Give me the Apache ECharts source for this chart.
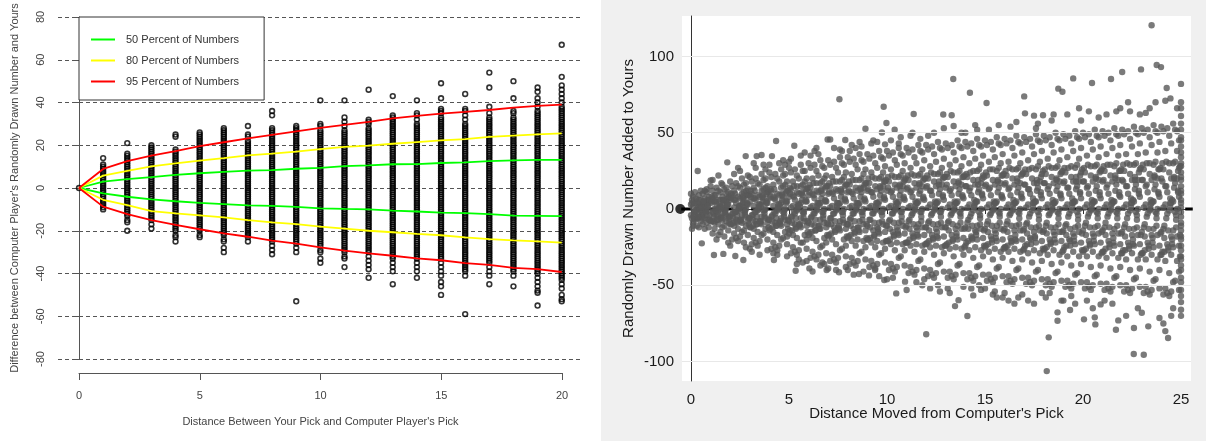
<!DOCTYPE html>
<html><head><meta charset="utf-8">
<script src="https://cdn.jsdelivr.net/npm/echarts@6/dist/echarts.min.js"></script>
<style>html,body{margin:0;padding:0;background:#fff}#c{width:1206px;height:441px}</style>
</head><body><div id="c"></div>
<script>
// ---------- LEFT PANEL DATA ----------
const leftXTicks = [0, 5, 10, 15, 20];
const leftYTicks = [-80, -60, -40, -20, 0, 20, 40, 60, 80];
const legendNames = ['50 Percent of Numbers', '80 Percent of Numbers', '95 Percent of Numbers'];
// y values observed in each column; column index = distance (0..20)
const col0 = [0];
const col1 = [-10,-9,-8,-7,-6,-5,-4,-3,-2,-1,0,1,2,3,4,5,6,7,8,9,10,11,14];
const col2 = [-20,-16,-15,-13,-12,-11,-10,-9,-8,-7,-6,-5,-4,-3,-2,-1,0,1,2,3,4,5,6,7,8,9,10,11,12,13,14,15,16,21];
const col3 = [-19,-17,-15,-14,-13,-12,-11,-10,-9,-8,-7,-6,-5,-4,-3,-2,-1,0,1,2,3,4,5,6,7,8,9,10,11,12,13,14,15,16,17,18,19,20];
const col4 = [-25,-23,-22,-20,-19,-18,-17,-16,-15,-14,-13,-12,-11,-10,-9,-8,-7,-6,-5,-4,-3,-2,-1,0,1,2,3,4,5,6,7,8,9,10,11,12,13,14,15,16,17,18,24,25];
const col5 = [-23,-22,-20,-19,-18,-17,-16,-15,-14,-13,-12,-11,-10,-9,-8,-7,-6,-5,-4,-3,-2,-1,0,1,2,3,4,5,6,7,8,9,10,11,12,13,14,15,16,17,18,19,20,21,22,23,24,25,26];
const col6 = [-30,-28,-25,-24,-22,-21,-20,-19,-18,-17,-16,-15,-14,-13,-12,-11,-10,-9,-8,-7,-6,-5,-4,-3,-2,-1,0,1,2,3,4,5,6,7,8,9,10,11,12,13,14,15,16,17,18,19,20,21,22,23,24,25,26,27,28];
const col7 = [-25,-23,-22,-21,-20,-19,-18,-17,-16,-15,-14,-13,-12,-11,-10,-9,-8,-7,-6,-5,-4,-3,-2,-1,0,1,2,3,4,5,6,7,8,9,10,11,12,13,14,15,16,17,18,19,20,21,22,24,25,29];
const col8 = [-31,-29,-27,-25,-24,-23,-22,-21,-20,-19,-18,-17,-16,-15,-14,-13,-12,-11,-10,-9,-8,-7,-6,-5,-4,-3,-2,-1,0,1,2,3,4,5,6,7,8,9,10,11,12,13,14,15,16,17,18,19,20,21,22,23,24,25,26,27,28,34,36];
const col9 = [-53,-30,-28,-26,-25,-24,-23,-22,-21,-20,-19,-18,-17,-16,-15,-14,-13,-12,-11,-10,-9,-8,-7,-6,-5,-4,-3,-2,-1,0,1,2,3,4,5,6,7,8,9,10,11,12,13,14,15,16,17,18,19,20,21,22,23,24,25,26,27,28,29];
const col10 = [-35,-33,-30,-29,-27,-26,-25,-24,-23,-22,-21,-20,-19,-18,-17,-16,-15,-14,-13,-12,-11,-10,-9,-8,-7,-6,-5,-4,-3,-2,-1,0,1,2,3,4,5,6,7,8,9,10,11,12,13,14,15,16,17,18,19,20,21,22,23,24,25,26,27,29,30,41];
const col11 = [-37,-33,-32,-30,-29,-28,-27,-26,-25,-24,-23,-22,-21,-20,-19,-18,-17,-16,-15,-14,-13,-12,-11,-10,-9,-8,-7,-6,-5,-4,-3,-2,-1,0,1,2,3,4,5,6,7,8,9,10,11,12,13,14,15,16,17,18,19,20,21,22,23,24,25,26,27,29,31,33,41];
const col12 = [-42,-38,-36,-34,-32,-30,-29,-28,-27,-26,-25,-24,-23,-22,-21,-20,-19,-18,-17,-16,-15,-14,-13,-12,-11,-10,-9,-8,-7,-6,-5,-4,-3,-2,-1,0,1,2,3,4,5,6,7,8,9,10,11,12,13,14,15,16,17,18,19,20,21,22,23,24,25,26,27,28,30,31,32,46];
const col13 = [-45,-39,-37,-35,-33,-32,-31,-30,-29,-28,-27,-26,-25,-24,-23,-22,-21,-20,-19,-18,-17,-16,-15,-14,-13,-12,-11,-10,-9,-8,-7,-6,-5,-4,-3,-2,-1,0,1,2,3,4,5,6,7,8,9,10,11,12,13,14,15,16,17,18,19,20,21,22,23,24,25,26,27,28,29,30,31,32,33,34,43];
const col14 = [-42,-39,-37,-35,-33,-32,-31,-30,-29,-28,-27,-26,-25,-24,-23,-22,-21,-20,-19,-18,-17,-16,-15,-14,-13,-12,-11,-10,-9,-8,-7,-6,-5,-4,-3,-2,-1,0,1,2,3,4,5,6,7,8,9,10,11,12,13,14,15,16,17,18,19,20,21,22,23,24,25,26,27,28,29,30,32,34,35,41];
const col15 = [-50,-46,-44,-41,-39,-37,-35,-33,-32,-31,-30,-29,-28,-27,-26,-25,-24,-23,-22,-21,-20,-19,-18,-17,-16,-15,-14,-13,-12,-11,-10,-9,-8,-7,-6,-5,-4,-3,-2,-1,0,1,2,3,4,5,6,7,8,9,10,11,12,13,14,15,16,17,18,19,20,21,22,23,24,25,26,27,28,29,30,31,32,33,35,36,37,42,49];
const col16 = [-59,-41,-39,-38,-37,-36,-35,-34,-33,-32,-31,-30,-29,-28,-27,-26,-25,-24,-23,-22,-21,-20,-19,-18,-17,-16,-15,-14,-13,-12,-11,-10,-9,-8,-7,-6,-5,-4,-3,-2,-1,0,1,2,3,4,5,6,7,8,9,10,11,12,13,14,15,16,17,18,19,20,21,22,23,24,25,26,27,28,29,30,32,34,36,37,44];
const col17 = [-45,-41,-39,-37,-35,-34,-33,-32,-31,-30,-29,-28,-27,-26,-25,-24,-23,-22,-21,-20,-19,-18,-17,-16,-15,-14,-13,-12,-11,-10,-9,-8,-7,-6,-5,-4,-3,-2,-1,0,1,2,3,4,5,6,7,8,9,10,11,12,13,14,15,16,17,18,19,20,21,22,23,24,25,26,27,28,29,30,31,32,33,35,38,47,54];
const col18 = [-46,-41,-39,-38,-37,-36,-35,-34,-33,-32,-31,-30,-29,-28,-27,-26,-25,-24,-23,-22,-21,-20,-19,-18,-17,-16,-15,-14,-13,-12,-11,-10,-9,-8,-7,-6,-5,-4,-3,-2,-1,0,1,2,3,4,5,6,7,8,9,10,11,12,13,14,15,16,17,18,19,20,21,22,23,24,25,26,27,28,29,30,31,32,33,35,36,42,50];
const col19 = [-55,-49,-48,-46,-44,-42,-40,-39,-38,-37,-36,-35,-34,-33,-32,-31,-30,-29,-28,-27,-26,-25,-24,-23,-22,-21,-20,-19,-18,-17,-16,-15,-14,-13,-12,-11,-10,-9,-8,-7,-6,-5,-4,-3,-2,-1,0,1,2,3,4,5,6,7,8,9,10,11,12,13,14,15,16,17,18,19,20,21,22,23,24,25,26,27,28,29,30,31,32,33,34,35,36,38,40,42,45,47];
const col20 = [-53,-52,-50,-47,-45,-43,-42,-41,-40,-39,-38,-37,-36,-35,-34,-33,-32,-31,-30,-29,-28,-27,-26,-25,-24,-23,-22,-21,-20,-19,-18,-17,-16,-15,-14,-13,-12,-11,-10,-9,-8,-7,-6,-5,-4,-3,-2,-1,0,1,2,3,4,5,6,7,8,9,10,11,12,13,14,15,16,17,18,19,20,21,22,23,24,25,26,27,28,29,30,31,32,33,34,35,36,37,38,40,42,44,46,48,52,67];
const leftCols = [col0,col1,col2,col3,col4,col5,col6,col7,col8,col9,col10,col11,col12,col13,col14,col15,col16,col17,col18,col19,col20];

// percentile band lines, index = distance 0..20
const pct50Upper = [0,3.0,4.2,5.1,6.1,6.9,7.5,8.1,8.4,9.0,9.4,10.2,10.6,11.1,11.2,11.7,12.0,12.6,12.9,13.2,13.2];
const pct50Lower = [0,-2.5,-4.1,-5.3,-6.2,-7.0,-7.5,-8.1,-8.4,-8.8,-9.5,-9.8,-10.0,-10.6,-11.0,-11.5,-11.8,-12.2,-12.9,-13.0,-13.2];
const pct80Upper = [0,5.8,8.0,10.1,11.5,12.8,14.0,15.3,16.1,17.0,18.2,19.2,19.8,20.7,21.5,22.3,22.9,23.9,24.5,25.1,25.6];
const pct80Lower = [0,-5.5,-8.0,-10.8,-11.9,-12.8,-13.7,-15.0,-16.1,-16.9,-18.1,-19.0,-20.0,-20.7,-21.5,-22.1,-23.1,-23.9,-24.5,-25.0,-25.6];
const pct95Upper = [0,8.9,12.6,15.1,17.3,19.6,21.4,23.2,24.9,26.5,28.1,29.5,30.9,32.6,33.7,34.8,35.6,36.5,37.6,38.4,39.0];
const pct95Lower = [0,-8.7,-12.2,-15.0,-17.3,-19.3,-21.2,-22.8,-24.6,-26.0,-27.8,-29.3,-30.6,-31.7,-32.9,-33.8,-35.1,-36.0,-37.4,-38.0,-39.3];

// ---------- RIGHT PANEL DATA ----------
const rightXTicks = [0, 5, 10, 15, 20, 25];
const rightYTicks = [-100, -50, 0, 50, 100];
const rightGridValues = [-100, -50, 50, 100];
const zeroLineX = [-0.5, 25.6];
const originDot = [-0.55, 0];
// (distance, number) pairs, flat: x, y, x, y ... (outer spread and outliers)
const rightXY = [
0.0,3, 0.0,-4, 0.1,8, 0.1,-9, 0.1,1, 0.2,11, 0.2,-2, 0.2,-7, 0.3,5, 0.3,-11, 0.3,0, 0.4,9, 0.4,-5, 0.4,2, 0.5,-1, 0.5,12, 0.5,-8, 0.5,6, 0.6,-3, 0.6,10, 0.6,-10, 0.6,4, 0.7,-6, 0.7,7, 0.7,1, 0.7,-13, 0.8,13, 0.8,-4, 0.8,3, 0.8,-9, 0.9,8, 0.9,-1, 0.9,-12, 0.9,5, 0.0,10, 0.2,4, 0.4,-12, 0.6,-6, 0.8,11, 0.3,-6, 0.5,2, 0.7,12, 0.1,-11, 0.9,-7, 0.4,6, 0.05,-13, 0.55,-22.5, 0.34,24.9,
1.0,4, 1.0,-8, 1.1,12, 1.1,-2, 1.1,7, 1.2,-13, 1.2,0, 1.2,9, 1.3,-5, 1.3,14, 1.3,3, 1.4,-10, 1.4,6, 1.4,-1, 1.5,11, 1.5,-15, 1.5,2, 1.6,-7, 1.6,8, 1.6,-3, 1.7,13, 1.7,-11, 1.7,5, 1.8,-4, 1.8,10, 1.8,1, 1.9,-14, 1.9,7, 1.9,-6, 1.0,15, 1.2,-9, 1.4,12, 1.6,-12, 1.8,-8, 1.3,-2, 1.5,6, 1.7,0, 1.9,3, 1.1,-16, 1.6,16, 1.8,14, 1.4,-17, 1.9,11, 1.2,5, 1.5,-6, 1.0,18.8, 1.55,17, 1.85,30.6, 1.17,-30.1, 1.65,-29.4, 1.3,-20, 1.7,-18, 1.4,22, 1.1,19, 1.9,-22,
2.0,6, 2.0,-10, 2.1,15, 2.1,-3, 2.1,9, 2.2,-16, 2.2,1, 2.2,12, 2.3,-7, 2.3,17, 2.3,4, 2.4,-13, 2.4,8, 2.4,-1, 2.5,14, 2.5,-18, 2.5,2, 2.6,-9, 2.6,10, 2.6,-4, 2.7,16, 2.7,-14, 2.7,6, 2.8,-5, 2.8,12, 2.8,0, 2.9,-17, 2.9,9, 2.9,-8, 2.0,18, 2.2,-11, 2.4,15, 2.6,-15, 2.8,-11, 2.3,-2, 2.5,7, 2.7,-1, 2.9,3, 2.1,-20, 2.6,20, 2.8,17, 2.4,-21, 2.9,13, 2.2,6, 2.5,-7, 2.7,11, 2.0,-5, 2.3,-19, 2.6,3, 2.26,-30.8, 2.67,-33.4, 2.79,34.7, 2.2,23, 2.5,25, 2.9,22, 2.0,-24, 2.8,-25, 2.4,27, 2.7,-22,
3.0,5, 3.0,-12, 3.1,18, 3.1,-4, 3.1,10, 3.2,-19, 3.2,2, 3.2,14, 3.3,-8, 3.3,20, 3.3,6, 3.4,-15, 3.4,9, 3.4,-1, 3.5,16, 3.5,-21, 3.5,3, 3.6,-10, 3.6,12, 3.6,-5, 3.7,19, 3.7,-16, 3.7,7, 3.8,-6, 3.8,14, 3.8,0, 3.9,-20, 3.9,11, 3.9,-9, 3.0,21, 3.2,-13, 3.4,17, 3.6,-17, 3.8,-13, 3.3,-2, 3.5,8, 3.7,-1, 3.9,4, 3.1,-23, 3.6,23, 3.8,20, 3.4,-24, 3.9,15, 3.2,7, 3.5,-8, 3.7,13, 3.0,-6, 3.3,-22, 3.6,3, 3.35,34.7, 3.6,35.4, 3.3,27, 3.7,29, 3.1,-28, 3.9,-27, 3.5,-30, 3.8,26, 3.2,30, 3.0,-26,
4.0,7, 4.0,-14, 4.1,21, 4.1,-5, 4.1,12, 4.2,-22, 4.2,2, 4.2,16, 4.3,-9, 4.3,23, 4.3,6, 4.4,-17, 4.4,10, 4.4,-1, 4.5,18, 4.5,-24, 4.5,3, 4.6,-11, 4.6,14, 4.6,-6, 4.7,22, 4.7,-19, 4.7,8, 4.8,-7, 4.8,16, 4.8,0, 4.9,-23, 4.9,12, 4.9,-10, 4.0,24, 4.2,-15, 4.4,20, 4.6,-20, 4.8,-15, 4.3,-3, 4.5,9, 4.7,-2, 4.9,5, 4.1,-26, 4.6,26, 4.8,23, 4.4,-27, 4.9,18, 4.2,8, 4.5,-9, 4.7,15, 4.0,-7, 4.3,-25, 4.6,4, 4.9,-18, 4.13,34.7, 4.34,44.6, 4.23,-33.4, 4.5,30, 4.7,32, 4.0,29, 4.9,-31, 4.4,-30, 4.8,29, 4.2,-29,
5.0,8, 5.0,-16, 5.1,24, 5.1,-5, 5.1,13, 5.2,-25, 5.2,2, 5.2,18, 5.3,-10, 5.3,26, 5.3,6, 5.4,-19, 5.4,11, 5.4,-1, 5.5,20, 5.5,-27, 5.5,3, 5.6,-12, 5.6,15, 5.6,-6, 5.7,25, 5.7,-22, 5.7,9, 5.8,-8, 5.8,18, 5.8,0, 5.9,-26, 5.9,13, 5.9,-11, 5.0,27, 5.2,-17, 5.4,22, 5.6,-22, 5.8,-17, 5.3,-3, 5.5,10, 5.7,-2, 5.9,5, 5.1,-29, 5.6,29, 5.8,25, 5.4,-30, 5.9,20, 5.2,9, 5.5,-10, 5.7,16, 5.0,-8, 5.3,-28, 5.6,4, 5.9,-20, 5.1,1, 5.4,15, 5.27,41.5, 5.34,-40.4, 5.4,-36, 5.6,35, 5.8,37, 5.1,33, 5.9,-34, 5.5,-33, 5.0,31, 5.7,-35,
6.0,9, 6.0,-17, 6.1,27, 6.1,-6, 6.1,14, 6.2,-28, 6.2,2, 6.2,20, 6.3,-11, 6.3,29, 6.3,7, 6.4,-21, 6.4,12, 6.4,-1, 6.5,22, 6.5,-30, 6.5,4, 6.6,-13, 6.6,17, 6.6,-7, 6.7,28, 6.7,-24, 6.7,10, 6.8,-9, 6.8,20, 6.8,0, 6.9,-29, 6.9,15, 6.9,-12, 6.0,30, 6.2,-19, 6.4,25, 6.6,-25, 6.8,-19, 6.3,-3, 6.5,11, 6.7,-2, 6.9,5, 6.1,-32, 6.6,32, 6.8,27, 6.4,-33, 6.9,22, 6.2,10, 6.5,-11, 6.7,18, 6.0,-9, 6.3,-31, 6.6,4, 6.9,-22, 6.1,1, 6.4,17, 6.04,-38.9, 6.2,-40.9, 6.97,45.6, 6.3,38, 6.5,36, 6.1,35, 6.8,-36, 6.6,-37, 6.4,40, 6.7,-35, 6.92,-40,
7.0,10, 7.0,-18, 7.1,29, 7.1,-6, 7.1,15, 7.2,-30, 7.2,2, 7.2,21, 7.3,-12, 7.3,31, 7.3,7, 7.4,-23, 7.4,13, 7.4,-1, 7.5,24, 7.5,-32, 7.5,4, 7.6,-14, 7.6,18, 7.6,-8, 7.7,30, 7.7,-26, 7.7,11, 7.8,-9, 7.8,21, 7.8,0, 7.9,-31, 7.9,16, 7.9,-13, 7.0,32, 7.2,-20, 7.4,27, 7.6,-27, 7.8,-20, 7.3,-3, 7.5,12, 7.7,-2, 7.9,5, 7.1,-34, 7.6,34, 7.8,29, 7.4,-35, 7.9,24, 7.2,11, 7.5,-12, 7.7,19, 7.0,-10, 7.3,-33, 7.6,4, 7.9,-24, 7.1,1, 7.4,18, 7.1,45.6, 7.57,71.9, 7.87,45.2, 7.55,-41.4, 7.3,40, 7.7,38, 7.0,-39, 7.9,-38, 7.4,-40, 7.6,39,
8.0,11, 8.0,-19, 8.1,31, 8.1,-7, 8.1,16, 8.2,-32, 8.2,2, 8.2,23, 8.3,-13, 8.3,33, 8.3,7, 8.4,-24, 8.4,14, 8.4,-1, 8.5,26, 8.5,-34, 8.5,4, 8.6,-15, 8.6,19, 8.6,-8, 8.7,32, 8.7,-28, 8.7,11, 8.8,-10, 8.8,23, 8.8,0, 8.9,-33, 8.9,17, 8.9,-14, 8.0,34, 8.2,-21, 8.4,29, 8.6,-29, 8.8,-21, 8.3,-3, 8.5,12, 8.7,-2, 8.9,5, 8.1,-36, 8.6,36, 8.8,31, 8.4,-37, 8.9,26, 8.2,11, 8.5,-12, 8.7,20, 8.0,-10, 8.3,-35, 8.6,4, 8.9,-25, 8.1,1, 8.4,19, 8.5,-20, 8.8,14, 8.9,52.6, 8.57,-42.6, 8.2,42, 8.6,44, 8.4,40, 8.0,-40, 8.8,-41, 8.3,-43, 8.7,41, 8.1,38,
9.0,12, 9.0,-20, 9.1,33, 9.1,-7, 9.1,17, 9.2,-34, 9.2,2, 9.2,24, 9.3,-14, 9.3,35, 9.3,8, 9.4,-25, 9.4,15, 9.4,-1, 9.5,27, 9.5,-36, 9.5,4, 9.6,-16, 9.6,20, 9.6,-9, 9.7,34, 9.7,-29, 9.7,12, 9.8,-10, 9.8,24, 9.8,0, 9.9,-35, 9.9,18, 9.9,-15, 9.0,36, 9.2,-22, 9.4,30, 9.6,-30, 9.8,-22, 9.3,-3, 9.5,13, 9.7,-2, 9.9,6, 9.1,-38, 9.6,38, 9.8,33, 9.4,-39, 9.9,28, 9.2,11, 9.5,-12, 9.7,21, 9.0,-11, 9.3,-37, 9.6,5, 9.9,-26, 9.1,1, 9.4,20, 9.5,-21, 9.8,15, 9.08,-43.5, 9.39,-40, 9.86,-46.5, 9.83,67, 9.97,56.4, 9.74,50.2, 9.9,42.4, 9.5,44, 9.2,43, 9.6,-44, 9.3,45,
10.0,12, 10.0,-21, 10.1,35, 10.1,-8, 10.1,18, 10.2,-36, 10.2,2, 10.2,26, 10.3,-15, 10.3,37, 10.3,8, 10.4,-27, 10.4,16, 10.4,-1, 10.5,29, 10.5,-38, 10.5,4, 10.6,-17, 10.6,21, 10.6,-9, 10.7,36, 10.7,-31, 10.7,12, 10.8,-11, 10.8,25, 10.8,0, 10.9,-37, 10.9,19, 10.9,-16, 10.0,38, 10.2,-23, 10.4,32, 10.6,-32, 10.8,-23, 10.3,-3, 10.5,14, 10.7,-2, 10.9,6, 10.1,-40, 10.6,40, 10.8,35, 10.4,-41, 10.9,30, 10.2,11, 10.5,-12, 10.7,22, 10.0,-11, 10.3,-39, 10.6,5, 10.9,-27, 10.1,1, 10.4,21, 10.5,-22, 10.8,15, 10.39,52, 10.47,-55.3, 11.0,-53.1, 10.92,-47.6, 10.2,45, 10.7,47, 10.0,-46, 10.6,43, 10.3,-45,
11.0,13, 11.0,-22, 11.1,37, 11.1,-8, 11.1,19, 11.2,-38, 11.2,2, 11.2,27, 11.3,-16, 11.3,39, 11.3,8, 11.4,-28, 11.4,17, 11.4,-1, 11.5,30, 11.5,-40, 11.5,4, 11.6,-18, 11.6,22, 11.6,-10, 11.7,38, 11.7,-33, 11.7,12, 11.8,-12, 11.8,26, 11.8,0, 11.9,-39, 11.9,20, 11.9,-17, 11.0,40, 11.2,-24, 11.4,34, 11.6,-34, 11.8,-24, 11.3,-3, 11.5,14, 11.7,-2, 11.9,6, 11.1,-42, 11.6,42, 11.8,37, 11.4,-43, 11.9,32, 11.2,11, 11.5,-12, 11.7,23, 11.0,-11, 11.3,-41, 11.6,5, 11.9,-28, 11.1,1, 11.4,22, 11.5,-23, 11.8,15, 11.36,62.3, 11.2,48, 11.7,46, 11.5,-48, 11.9,-46, 11.3,50, 11.8,-50,
12.0,14, 12.0,-23, 12.1,39, 12.1,-9, 12.1,20, 12.2,-40, 12.2,3, 12.2,28, 12.3,-17, 12.3,41, 12.3,9, 12.4,-30, 12.4,18, 12.4,-1, 12.5,31, 12.5,-42, 12.5,4, 12.6,-19, 12.6,23, 12.6,-10, 12.7,40, 12.7,-35, 12.7,13, 12.8,-12, 12.8,27, 12.8,0, 12.9,-41, 12.9,21, 12.9,-18, 12.0,42, 12.2,-25, 12.4,36, 12.6,-36, 12.8,-25, 12.3,-3, 12.5,15, 12.7,-2, 12.9,6, 12.1,-44, 12.6,44, 12.8,39, 12.4,-45, 12.9,33, 12.2,12, 12.5,-13, 12.7,24, 12.0,-12, 12.3,-43, 12.6,5, 12.9,-29, 12.1,1, 12.4,23, 12.5,-24, 12.8,16, 12.4,50, 12.87,61.9, 12.9,53, 12.0,-82.1, 12.2,-52, 12.6,-50, 12.1,48, 12.7,-54,
13.0,14, 13.0,-24, 13.1,40, 13.1,-9, 13.1,21, 13.2,-41, 13.2,3, 13.2,29, 13.3,-17, 13.3,42, 13.3,9, 13.4,-31, 13.4,18, 13.4,-1, 13.5,32, 13.5,-43, 13.5,4, 13.6,-20, 13.6,24, 13.6,-11, 13.7,41, 13.7,-36, 13.7,13, 13.8,-13, 13.8,28, 13.8,0, 13.9,-42, 13.9,21, 13.9,-19, 13.0,43, 13.2,-26, 13.4,37, 13.6,-37, 13.8,-26, 13.3,-3, 13.5,15, 13.7,-2, 13.9,7, 13.1,-45, 13.6,45, 13.8,40, 13.4,-46, 13.9,34, 13.2,12, 13.5,-13, 13.7,25, 13.0,-12, 13.3,-44, 13.6,5, 13.9,-30, 13.1,1, 13.4,24, 13.5,-25, 13.8,16, 13.38,85.2, 13.3,61.5, 13.4,54.4, 13.47,-63.6, 13.65,-59.7, 13.1,-52, 13.8,50, 13.2,-55, 13.9,-51,
14.0,15, 14.0,-24, 14.1,41, 14.1,-9, 14.1,21, 14.2,-42, 14.2,3, 14.2,30, 14.3,-18, 14.3,43, 14.3,9, 14.4,-32, 14.4,19, 14.4,-1, 14.5,33, 14.5,-44, 14.5,4, 14.6,-20, 14.6,25, 14.6,-11, 14.7,42, 14.7,-37, 14.7,13, 14.8,-13, 14.8,29, 14.8,0, 14.9,-43, 14.9,22, 14.9,-19, 14.0,44, 14.2,-27, 14.4,38, 14.6,-38, 14.8,-27, 14.3,-3, 14.5,16, 14.7,-2, 14.9,7, 14.1,-46, 14.6,46, 14.8,41, 14.4,-47, 14.9,35, 14.2,12, 14.5,-14, 14.7,26, 14.0,-12, 14.3,-45, 14.6,5, 14.9,-31, 14.1,1, 14.4,25, 14.5,-25, 14.8,17, 14.23,76.2, 14.1,-70.1, 14.4,-56.6, 14.3,-52, 14.6,52, 14.0,50, 14.8,-53, 14.5,55, 14.7,-50,
15.0,15, 15.0,-25, 15.1,42, 15.1,-10, 15.1,22, 15.2,-43, 15.2,3, 15.2,31, 15.3,-18, 15.3,44, 15.3,9, 15.4,-33, 15.4,19, 15.4,-1, 15.5,34, 15.5,-45, 15.5,4, 15.6,-21, 15.6,25, 15.6,-11, 15.7,43, 15.7,-38, 15.7,14, 15.8,-13, 15.8,30, 15.8,0, 15.9,-44, 15.9,22, 15.9,-20, 15.0,45, 15.2,-28, 15.4,39, 15.6,-39, 15.8,-28, 15.3,-3, 15.5,16, 15.7,-2, 15.9,7, 15.1,-47, 15.6,47, 15.8,42, 15.4,-48, 15.9,36, 15.2,13, 15.5,-14, 15.7,27, 15.0,-13, 15.3,-46, 15.6,5, 15.9,-32, 15.1,1, 15.4,26, 15.5,-26, 15.8,17, 15.08,69.5, 15.4,-56, 15.6,-58, 15.9,-58, 15.2,52, 15.7,55, 15.0,-52, 15.5,-54,
16.0,16, 16.0,-25, 16.1,43, 16.1,-10, 16.1,22, 16.2,-44, 16.2,3, 16.2,31, 16.3,-19, 16.3,45, 16.3,9, 16.4,-34, 16.4,20, 16.4,-1, 16.5,35, 16.5,-46, 16.5,4, 16.6,-21, 16.6,26, 16.6,-11, 16.7,44, 16.7,-39, 16.7,14, 16.8,-14, 16.8,30, 16.8,0, 16.9,-45, 16.9,23, 16.9,-20, 16.0,46, 16.2,-28, 16.4,40, 16.6,-40, 16.8,-28, 16.3,-3, 16.5,16, 16.7,-2, 16.9,7, 16.1,-48, 16.6,48, 16.8,43, 16.4,-49, 16.9,37, 16.2,13, 16.5,-14, 16.7,27, 16.0,-13, 16.3,-47, 16.6,5, 16.9,-33, 16.1,1, 16.4,26, 16.5,-26, 16.8,17, 16.2,-60, 16.5,-62, 16.7,-58, 16.3,54, 16.9,-56, 16.6,57, 16.0,-55,
17.0,16, 17.0,-26, 17.1,44, 17.1,-10, 17.1,23, 17.2,-45, 17.2,3, 17.2,32, 17.3,-19, 17.3,46, 17.3,10, 17.4,-35, 17.4,20, 17.4,-1, 17.5,36, 17.5,-47, 17.5,4, 17.6,-22, 17.6,26, 17.6,-12, 17.7,45, 17.7,-40, 17.7,14, 17.8,-14, 17.8,31, 17.8,0, 17.9,-46, 17.9,23, 17.9,-21, 17.0,47, 17.2,-29, 17.4,41, 17.6,-41, 17.8,-29, 17.3,-3, 17.5,17, 17.7,-2, 17.9,7, 17.1,-49, 17.6,49, 17.8,44, 17.4,-50, 17.9,38, 17.2,13, 17.5,-15, 17.7,28, 17.0,-13, 17.3,-48, 17.6,5, 17.9,-34, 17.1,1, 17.4,27, 17.5,-27, 17.8,18, 17.0,73.8, 17.04,62.7, 17.5,61.2, 17.96,61.5, 17.7,56, 17.2,-60, 17.9,-55, 17.5,-62, 17.6,53,
18.0,17, 18.0,-27, 18.1,45, 18.1,-11, 18.1,23, 18.2,-46, 18.2,3, 18.2,33, 18.3,-20, 18.3,47, 18.3,10, 18.4,-36, 18.4,21, 18.4,-1, 18.5,37, 18.5,-48, 18.5,4, 18.6,-22, 18.6,27, 18.6,-12, 18.7,46, 18.7,-41, 18.7,15, 18.8,-15, 18.8,32, 18.8,0, 18.9,-47, 18.9,24, 18.9,-21, 18.0,48, 18.2,-30, 18.4,42, 18.6,-42, 18.8,-30, 18.3,-3, 18.5,17, 18.7,-2, 18.9,7, 18.1,-50, 18.6,50, 18.8,45, 18.4,-51, 18.9,39, 18.2,13, 18.5,-15, 18.7,28, 18.0,-14, 18.3,-49, 18.6,5, 18.9,-35, 18.1,1, 18.4,27, 18.5,-27, 18.8,18, 18.74,78.9, 18.95,76.9, 18.15,-106.2, 18.25,-84.1, 18.7,-67.7, 18.7,-73.2, 18.4,58, 18.1,-58, 18.9,-60, 18.5,62, 18.3,-55,
19.0,17, 19.0,-27, 19.1,46, 19.1,-11, 19.1,24, 19.2,-47, 19.2,3, 19.2,34, 19.3,-20, 19.3,48, 19.3,10, 19.4,-37, 19.4,21, 19.4,-1, 19.5,38, 19.5,-49, 19.5,4, 19.6,-23, 19.6,27, 19.6,-12, 19.7,47, 19.7,-42, 19.7,15, 19.8,-15, 19.8,33, 19.8,0, 19.9,-48, 19.9,24, 19.9,-22, 19.0,49, 19.2,-31, 19.4,43, 19.6,-43, 19.8,-31, 19.3,-3, 19.5,18, 19.7,-2, 19.9,7, 19.1,-51, 19.6,51, 19.8,46, 19.4,-52, 19.9,40, 19.2,14, 19.5,-16, 19.7,29, 19.0,-14, 19.3,-50, 19.6,5, 19.9,-36, 19.1,1, 19.4,28, 19.5,-28, 19.8,18, 19.5,85.6, 19.34,-66.2, 19.2,62, 19.8,66, 19.0,-60, 19.6,-62, 19.9,58, 19.4,-57,
20.0,18, 20.0,-28, 20.1,47, 20.1,-11, 20.1,24, 20.2,-48, 20.2,3, 20.2,35, 20.3,-21, 20.3,49, 20.3,10, 20.4,-38, 20.4,22, 20.4,-1, 20.5,39, 20.5,-50, 20.5,4, 20.6,-23, 20.6,28, 20.6,-12, 20.7,48, 20.7,-43, 20.7,15, 20.8,-16, 20.8,34, 20.8,0, 20.9,-49, 20.9,25, 20.9,-22, 20.0,50, 20.2,-31, 20.4,44, 20.6,-44, 20.8,-31, 20.3,-3, 20.5,18, 20.7,-2, 20.9,7, 20.1,-52, 20.6,52, 20.8,47, 20.4,-53, 20.9,41, 20.2,14, 20.5,-16, 20.7,29, 20.0,-14, 20.3,-51, 20.6,5, 20.9,-37, 20.1,1, 20.4,28, 20.5,-28, 20.8,19, 20.46,82.6, 20.05,-72.3, 20.63,-75.6, 20.6,-71, 20.9,-62.5, 20.3,64, 20.8,60, 20.2,-60, 20.5,-65,
21.0,18, 21.0,-28, 21.1,48, 21.1,-12, 21.1,25, 21.2,-49, 21.2,3, 21.2,36, 21.3,-21, 21.3,50, 21.3,10, 21.4,-39, 21.4,22, 21.4,-1, 21.5,40, 21.5,-51, 21.5,4, 21.6,-24, 21.6,28, 21.6,-13, 21.7,49, 21.7,-44, 21.7,16, 21.8,-16, 21.8,35, 21.8,0, 21.9,-50, 21.9,25, 21.9,-23, 21.0,51, 21.2,-32, 21.4,45, 21.6,-45, 21.8,-32, 21.3,-3, 21.5,18, 21.7,-2, 21.9,8, 21.1,-53, 21.6,53, 21.8,48, 21.4,-54, 21.9,42, 21.2,14, 21.5,-16, 21.7,30, 21.0,-14, 21.3,-52, 21.6,5, 21.9,-38, 21.1,1, 21.4,29, 21.5,-29, 21.8,19, 21.43,85.2, 21.68,-79.1, 21.8,-73, 21.2,62, 21.9,66, 21.5,-62, 21.1,-60, 21.7,64,
22.0,19, 22.0,-29, 22.1,49, 22.1,-12, 22.1,25, 22.2,-50, 22.2,3, 22.2,36, 22.3,-22, 22.3,51, 22.3,10, 22.4,-40, 22.4,23, 22.4,-1, 22.5,41, 22.5,-52, 22.5,4, 22.6,-24, 22.6,29, 22.6,-13, 22.7,50, 22.7,-45, 22.7,16, 22.8,-17, 22.8,36, 22.8,0, 22.9,-51, 22.9,26, 22.9,-23, 22.0,52, 22.2,-33, 22.4,46, 22.6,-46, 22.8,-33, 22.3,-3, 22.5,19, 22.7,-2, 22.9,8, 22.1,-54, 22.6,54, 22.8,49, 22.4,-55, 22.9,43, 22.2,15, 22.5,-17, 22.7,30, 22.0,-15, 22.3,-53, 22.6,5, 22.9,-39, 22.1,1, 22.4,29, 22.5,-29, 22.8,19, 22.0,89.8, 22.59,-95, 22.6,-78, 22.2,-70, 22.4,64, 22.8,-65, 22.3,70, 22.9,62,
23.0,19, 23.0,-29, 23.1,50, 23.1,-12, 23.1,26, 23.2,-51, 23.2,3, 23.2,37, 23.3,-22, 23.3,52, 23.3,11, 23.4,-41, 23.4,23, 23.4,-1, 23.5,42, 23.5,-53, 23.5,4, 23.6,-25, 23.6,29, 23.6,-13, 23.7,51, 23.7,-46, 23.7,16, 23.8,-17, 23.8,37, 23.8,0, 23.9,-52, 23.9,26, 23.9,-24, 23.0,53, 23.2,-33, 23.4,47, 23.6,-47, 23.8,-33, 23.3,-3, 23.5,19, 23.7,-2, 23.9,8, 23.1,-55, 23.6,55, 23.8,50, 23.4,-56, 23.9,44, 23.2,15, 23.5,-17, 23.7,31, 23.0,-15, 23.3,-54, 23.6,5, 23.9,-40, 23.1,1, 23.4,30, 23.5,-30, 23.8,20, 22.96,91.5, 23.5,120.4, 23.76,94.4, 23.98,93, 23.1,-95.5, 23.33,-76.9, 23.9,-71.4, 23.0,-68, 23.4,66, 23.7,70, 23.2,63,
24.0,20, 24.0,-30, 24.1,51, 24.1,-13, 24.1,26, 24.2,-52, 24.2,3, 24.2,38, 24.3,-23, 24.3,53, 24.3,11, 24.4,-42, 24.4,24, 24.4,-1, 24.5,43, 24.5,-54, 24.5,4, 24.6,-25, 24.6,30, 24.6,-14, 24.7,52, 24.7,-47, 24.7,17, 24.8,-18, 24.8,38, 24.8,0, 24.9,-53, 24.9,27, 24.9,-24, 24.0,54, 24.2,-34, 24.4,48, 24.6,-48, 24.8,-34, 24.3,-3, 24.5,20, 24.7,-2, 24.9,8, 24.1,-56, 24.6,56, 24.8,51, 24.4,-57, 24.9,45, 24.2,15, 24.5,-18, 24.7,31, 24.0,-15, 24.3,-55, 24.6,5, 24.9,-41, 24.1,1, 24.4,30, 24.5,-30, 24.8,20, 24.27,79.3, 24.46,72.5, 24.2,71, 24.34,-84.5, 24.2,-80, 24.1,-75, 24.6,-65, 24.8,66, 24.5,-70,
25,82, 25,70, 25,66, 25,61, 25,56, 25,52, 25,47, 25,45, 25,41, 25,37, 25,34, 25,30, 25,28, 25,24, 25,21, 25,19, 25,15, 25,12, 25,10, 25,6, 25,4, 25,1, 25,-2, 25,-5, 25,-9, 25,-11, 25,-14, 25,-18, 25,-20, 25,-24, 25,-27, 25,-31, 25,-33, 25,-37, 25,-40, 25,-45, 25,-48, 25,-53, 25,-57, 25,-61, 25,-66, 25,-70
];
// dense inner core points, flat: x, y, ...
const rightInnerXY = [
0.05,6, 0.15,-2, 0.25,4, 0.35,-6, 0.45,1, 0.55,-4, 0.65,5, 0.75,-1, 0.85,2, 0.95,-7, 0.95,-4, 0.85,6, 0.75,-1, 0.65,3, 0.55,-5, 0.45,1, 0.35,-3, 0.25,7, 0.15,-6, 0.05,4, 0.45,0, 0.05,-6, 0.65,5, 0.25,-1, 0.85,2, 0.15,-4, 0.55,1, 0.35,-5, 0.95,6, 0.75,-2,
1.05,8, 1.15,-3, 1.25,5, 1.35,-7, 1.45,1, 1.55,-5, 1.65,6, 1.75,-1, 1.85,3, 1.95,-9, 1.95,-5, 1.85,7, 1.75,-2, 1.65,4, 1.55,-6, 1.45,2, 1.35,-4, 1.25,9, 1.15,-8, 1.05,5, 1.45,0, 1.05,-8, 1.65,6, 1.25,-1, 1.85,3, 1.15,-5, 1.55,1, 1.35,-7, 1.95,8, 1.75,-3,
2.05,10, 2.15,-3, 2.25,6, 2.35,-9, 2.45,1, 2.55,-7, 2.65,8, 2.75,-1, 2.85,3, 2.95,-10, 2.95,-6, 2.85,9, 2.75,-2, 2.65,4, 2.55,-8, 2.45,2, 2.35,-4, 2.25,10, 2.15,-9, 2.05,7, 2.45,0, 2.05,-10, 2.65,7, 2.25,-2, 2.85,4, 2.15,-6, 2.55,2, 2.35,-8, 2.95,9, 2.75,-4,
3.05,12, 3.15,-4, 3.25,7, 3.35,-10, 3.45,1, 3.55,-8, 3.65,9, 3.75,-1, 3.85,4, 3.95,-12, 3.95,-7, 3.85,10, 3.75,-3, 3.65,5, 3.55,-9, 3.45,3, 3.35,-5, 3.25,12, 3.15,-11, 3.05,8, 3.45,0, 3.05,-12, 3.65,8, 3.25,-2, 3.85,5, 3.15,-7, 3.55,2, 3.35,-10, 3.95,11, 3.75,-5,
4.05,13, 4.15,-4, 4.25,7, 4.35,-11, 4.45,1, 4.55,-8, 4.65,10, 4.75,-1, 4.85,4, 4.95,-13, 4.95,-7, 4.85,11, 4.75,-3, 4.65,6, 4.55,-10, 4.45,3, 4.35,-6, 4.25,13, 4.15,-12, 4.05,8, 4.45,0, 4.05,-13, 4.65,9, 4.25,-2, 4.85,5, 4.15,-8, 4.55,2, 4.35,-11, 4.95,12, 4.75,-5,
5.05,14, 5.15,-5, 5.25,8, 5.35,-13, 5.45,2, 5.55,-10, 5.65,11, 5.75,-2, 5.85,5, 5.95,-15, 5.95,-8, 5.85,13, 5.75,-3, 5.65,6, 5.55,-11, 5.45,3, 5.35,-6, 5.25,15, 5.15,-14, 5.05,10, 5.45,0, 5.05,-14, 5.65,10, 5.25,-2, 5.85,6, 5.15,-9, 5.55,2, 5.35,-12, 5.95,14, 5.75,-6,
6.05,16, 6.15,-5, 6.25,9, 6.35,-14, 6.45,2, 6.55,-11, 6.65,13, 6.75,-2, 6.85,5, 6.95,-17, 6.95,-9, 6.85,14, 6.75,-4, 6.65,7, 6.55,-13, 6.45,4, 6.35,-7, 6.25,17, 6.15,-15, 6.05,11, 6.45,0, 6.05,-16, 6.65,12, 6.25,-3, 6.85,6, 6.15,-10, 6.55,3, 6.35,-14, 6.95,15, 6.75,-6,
7.05,17, 7.15,-6, 7.25,10, 7.35,-15, 7.45,2, 7.55,-11, 7.65,13, 7.75,-2, 7.85,6, 7.95,-18, 7.95,-10, 7.85,15, 7.75,-4, 7.65,8, 7.55,-13, 7.45,4, 7.35,-8, 7.25,18, 7.15,-16, 7.05,11, 7.45,0, 7.05,-17, 7.65,12, 7.25,-3, 7.85,7, 7.15,-10, 7.55,3, 7.35,-14, 7.95,16, 7.75,-7,
8.05,18, 8.15,-6, 8.25,10, 8.35,-16, 8.45,2, 8.55,-12, 8.65,14, 8.75,-2, 8.85,6, 8.95,-19, 8.95,-10, 8.85,16, 8.75,-4, 8.65,8, 8.55,-14, 8.45,4, 8.35,-8, 8.25,19, 8.15,-17, 8.05,12, 8.45,0, 8.05,-18, 8.65,13, 8.25,-3, 8.85,7, 8.15,-11, 8.55,3, 8.35,-15, 8.95,17, 8.75,-7,
9.05,20, 9.15,-7, 9.25,11, 9.35,-18, 9.45,2, 9.55,-13, 9.65,15, 9.75,-2, 9.85,7, 9.95,-21, 9.95,-11, 9.85,18, 9.75,-4, 9.65,9, 9.55,-15, 9.45,4, 9.35,-9, 9.25,21, 9.15,-19, 9.05,13, 9.45,0, 9.05,-20, 9.65,14, 9.25,-3, 9.85,8, 9.15,-12, 9.55,3, 9.35,-17, 9.95,19, 9.75,-8,
10.05,21, 10.15,-7, 10.25,12, 10.35,-18, 10.45,2, 10.55,-14, 10.65,16, 10.75,-2, 10.85,7, 10.95,-22, 10.95,-12, 10.85,18, 10.75,-5, 10.65,9, 10.55,-16, 10.45,5, 10.35,-9, 10.25,22, 10.15,-20, 10.05,14, 10.45,0, 10.05,-21, 10.65,15, 10.25,-3, 10.85,8, 10.15,-13, 10.55,3, 10.35,-17, 10.95,20, 10.75,-8,
11.05,22, 11.15,-7, 11.25,12, 11.35,-19, 11.45,2, 11.55,-14, 11.65,17, 11.75,-2, 11.85,7, 11.95,-23, 11.95,-12, 11.85,19, 11.75,-5, 11.65,10, 11.55,-17, 11.45,5, 11.35,-10, 11.25,23, 11.15,-20, 11.05,14, 11.45,0, 11.05,-22, 11.65,16, 11.25,-4, 11.85,8, 11.15,-13, 11.55,4, 11.35,-18, 11.95,20, 11.75,-8,
12.05,22, 12.15,-8, 12.25,12, 12.35,-20, 12.45,2, 12.55,-15, 12.65,18, 12.75,-2, 12.85,8, 12.95,-24, 12.95,-12, 12.85,20, 12.75,-5, 12.65,10, 12.55,-18, 12.45,5, 12.35,-10, 12.25,24, 12.15,-21, 12.05,15, 12.45,0, 12.05,-22, 12.65,16, 12.25,-4, 12.85,9, 12.15,-14, 12.55,4, 12.35,-19, 12.95,21, 12.75,-9,
13.05,23, 13.15,-8, 13.25,13, 13.35,-21, 13.45,3, 13.55,-16, 13.65,18, 13.75,-3, 13.85,8, 13.95,-25, 13.95,-13, 13.85,21, 13.75,-5, 13.65,10, 13.55,-18, 13.45,5, 13.35,-10, 13.25,25, 13.15,-22, 13.05,16, 13.45,0, 13.05,-23, 13.65,17, 13.25,-4, 13.85,9, 13.15,-14, 13.55,4, 13.35,-20, 13.95,22, 13.75,-9,
14.05,23, 14.15,-7, 14.25,14, 14.35,-20, 14.45,2, 14.55,-15, 14.65,19, 14.75,-4, 14.85,9, 14.95,-24, 14.95,-14, 14.85,20, 14.75,-6, 14.65,11, 14.55,-17, 14.45,6, 14.35,-11, 14.25,24, 14.15,-21, 14.05,15, 14.45,1, 14.05,-22, 14.65,16, 14.25,-5, 14.85,10, 14.15,-13, 14.55,5, 14.35,-19, 14.95,21, 14.75,-10,
15.05,24, 15.15,-8, 15.25,14, 15.35,-22, 15.45,3, 15.55,-16, 15.65,19, 15.75,-3, 15.85,8, 15.95,-26, 15.95,-14, 15.85,22, 15.75,-5, 15.65,11, 15.55,-19, 15.45,5, 15.35,-11, 15.25,26, 15.15,-23, 15.05,16, 15.45,0, 15.05,-24, 15.65,18, 15.25,-4, 15.85,9, 15.15,-15, 15.55,4, 15.35,-20, 15.95,23, 15.75,-9,
16.05,25, 16.15,-8, 16.25,14, 16.35,-22, 16.45,3, 16.55,-17, 16.65,20, 16.75,-3, 16.85,8, 16.95,-27, 16.95,-14, 16.85,22, 16.75,-6, 16.65,11, 16.55,-20, 16.45,6, 16.35,-11, 16.25,27, 16.15,-24, 16.05,17, 16.45,0, 16.05,-25, 16.65,18, 16.25,-4, 16.85,10, 16.15,-15, 16.55,4, 16.35,-21, 16.95,24, 16.75,-10,
17.05,26, 17.15,-9, 17.25,13, 17.35,-23, 17.45,4, 17.55,-18, 17.65,19, 17.75,-4, 17.85,9, 17.95,-26, 17.95,-15, 17.85,21, 17.75,-7, 17.65,12, 17.55,-19, 17.45,7, 17.35,-12, 17.25,26, 17.15,-23, 17.05,16, 17.45,1, 17.05,-24, 17.65,17, 17.25,-5, 17.85,11, 17.15,-16, 17.55,5, 17.35,-20, 17.95,25, 17.75,-11,
18.05,26, 18.15,-9, 18.25,15, 18.35,-23, 18.45,3, 18.55,-17, 18.65,20, 18.75,-3, 18.85,9, 18.95,-28, 18.95,-15, 18.85,23, 18.75,-6, 18.65,12, 18.55,-20, 18.45,6, 18.35,-12, 18.25,28, 18.15,-25, 18.05,17, 18.45,0, 18.05,-26, 18.65,19, 18.25,-4, 18.85,10, 18.15,-16, 18.55,4, 18.35,-22, 18.95,25, 18.75,-10,
19.05,27, 19.15,-10, 19.25,14, 19.35,-24, 19.45,4, 19.55,-18, 19.65,21, 19.75,-4, 19.85,10, 19.95,-27, 19.95,-16, 19.85,22, 19.75,-7, 19.65,13, 19.55,-21, 19.45,7, 19.35,-13, 19.25,27, 19.15,-24, 19.05,18, 19.45,1, 19.05,-25, 19.65,18, 19.25,-5, 19.85,11, 19.15,-17, 19.55,5, 19.35,-21, 19.95,26, 19.75,-11,
20.05,27, 20.15,-9, 20.25,15, 20.35,-24, 20.45,3, 20.55,-18, 20.65,21, 20.75,-3, 20.85,9, 20.95,-29, 20.95,-15, 20.85,24, 20.75,-6, 20.65,12, 20.55,-21, 20.45,6, 20.35,-12, 20.25,29, 20.15,-26, 20.05,18, 20.45,0, 20.05,-27, 20.65,20, 20.25,-5, 20.85,11, 20.15,-17, 20.55,5, 20.35,-23, 20.95,26, 20.75,-11,
21.05,28, 21.15,-9, 21.25,16, 21.35,-25, 21.45,3, 21.55,-19, 21.65,22, 21.75,-3, 21.85,9, 21.95,-29, 21.95,-16, 21.85,25, 21.75,-6, 21.65,12, 21.55,-22, 21.45,6, 21.35,-12, 21.25,29, 21.15,-26, 21.05,19, 21.45,0, 21.05,-28, 21.65,20, 21.25,-5, 21.85,11, 21.15,-17, 21.55,5, 21.35,-23, 21.95,26, 21.75,-11,
22.05,29, 22.15,-10, 22.25,15, 22.35,-26, 22.45,4, 22.55,-20, 22.65,21, 22.75,-4, 22.85,10, 22.95,-30, 22.95,-17, 22.85,24, 22.75,-7, 22.65,13, 22.55,-23, 22.45,7, 22.35,-13, 22.25,30, 22.15,-27, 22.05,18, 22.45,1, 22.05,-27, 22.65,19, 22.25,-6, 22.85,12, 22.15,-18, 22.55,6, 22.35,-24, 22.95,27, 22.75,-12,
23.05,29, 23.15,-10, 23.25,16, 23.35,-26, 23.45,3, 23.55,-19, 23.65,22, 23.75,-3, 23.85,10, 23.95,-30, 23.95,-16, 23.85,26, 23.75,-6, 23.65,13, 23.55,-22, 23.45,6, 23.35,-13, 23.25,30, 23.15,-27, 23.05,19, 23.45,0, 23.05,-29, 23.65,21, 23.25,-5, 23.85,11, 23.15,-18, 23.55,5, 23.35,-24, 23.95,27, 23.75,-11,
24.05,30, 24.15,-11, 24.25,15, 24.35,-27, 24.45,4, 24.55,-20, 24.65,21, 24.75,-4, 24.85,11, 24.95,-31, 24.95,-17, 24.85,25, 24.75,-7, 24.65,14, 24.55,-23, 24.45,7, 24.35,-14, 24.25,31, 24.15,-28, 24.05,18, 24.45,1, 24.05,-28, 24.65,20, 24.25,-6, 24.85,12, 24.15,-19, 24.55,6, 24.35,-25, 24.95,28, 24.75,-12
];

// ---------- BUILD ----------
const leftPoints = [];
leftCols.forEach((ys, d) => ys.forEach(y => leftPoints.push([d, y])));
const dist = pct50Upper.map((_, i) => i);
const pairs = arr => dist.map(d => [d, arr[d]]);
const rightPoints = [];
[rightXY, rightInnerXY].forEach(flat => {
  for (let i = 0; i + 1 < flat.length; i += 2) rightPoints.push([flat[i], flat[i + 1]]);
});

const FONT = '"Liberation Sans", Arial, sans-serif';
const chart = echarts.init(document.getElementById('c'), null, { renderer: 'canvas' });

function bandLine(name, color, data) {
  return { type: 'line', name, xAxisIndex: 1, yAxisIndex: 1, data, symbol: 'none', silent: true,
    lineStyle: { color, width: 1.8 }, itemStyle: { color }, z: 5, animation: false };
}

chart.setOption({
  animation: false,
  backgroundColor: '#ffffff',
  textStyle: { fontFamily: FONT },
  grid: [
    { left: 601, right: 0, top: 0, bottom: 0, show: true, backgroundColor: '#f0f0f0', borderWidth: 0, z: 0 },
    { left: 58, right: 624, top: 17, bottom: 82 },
    { left: 79, right: 644, top: 372, height: 1 },
    { left: 682, right: 15, top: 16, bottom: 60, show: true, backgroundColor: '#ffffff', borderWidth: 0 }
  ],
  legend: {
    data: legendNames, orient: 'vertical', left: 79, top: 17,
    icon: 'rect', itemWidth: 24, itemHeight: 2, itemGap: 10,
    padding: [17, 25, 13, 12],
    borderColor: '#333', borderWidth: 1, borderRadius: 0, backgroundColor: '#ffffff',
    textStyle: { fontSize: 11, color: '#333', fontFamily: FONT, padding: [0, 0, 0, 6] },
    selectedMode: false
  },
  xAxis: [
    { gridIndex: 0, type: 'value', show: false, min: 0, max: 1 },
    { gridIndex: 1, type: 'value', min: -0.87, max: 20.84, show: false },
    { gridIndex: 2, type: 'value', min: 0, max: 20, interval: 5,
      axisLine: { show: true, lineStyle: { color: '#555', width: 1 } },
      axisTick: { show: true, length: 7, lineStyle: { color: '#555' } },
      axisLabel: { margin: 17, fontSize: 11, color: '#444', fontFamily: FONT, customValues: leftXTicks },
      splitLine: { show: false },
      name: "Distance Between Your Pick and Computer Player's Pick", nameLocation: 'middle', nameGap: 43,
      nameTextStyle: { fontSize: 11, color: '#444', fontFamily: FONT } },
    { gridIndex: 3, type: 'value', min: -0.46, max: 25.51,
      axisLine: { show: true, lineStyle: { color: '#333', width: 1 } },
      axisTick: { show: true, length: 5, lineStyle: { color: '#333' }, customValues: rightXTicks },
      axisLabel: { margin: 11, fontSize: 15, color: '#1a1a1a', fontFamily: FONT, customValues: rightXTicks },
      splitLine: { show: false },
      name: "Distance Moved from Computer's Pick", nameLocation: 'middle', nameGap: 25, nameMoveOverlap: false,
      nameTextStyle: { fontSize: 15, color: '#1a1a1a', fontFamily: FONT } }
  ],
  yAxis: [
    { gridIndex: 0, type: 'value', show: false, min: 0, max: 1 },
    { gridIndex: 1, type: 'value', min: -80, max: 80, interval: 20,
      axisLine: { show: true, lineStyle: { color: '#555', width: 1 } },
      axisTick: { show: true, length: 6, lineStyle: { color: '#555' } },
      axisLabel: { rotate: 90, margin: 12, fontSize: 11, color: '#444', fontFamily: FONT, customValues: leftYTicks },
      splitLine: { show: true, lineStyle: { color: '#555', width: 1, type: [4, 3] } },
      name: "Difference between Computer Player's Randomly Drawn Number and Yours",
      nameLocation: 'middle', nameGap: 38, nameTextStyle: { fontSize: 11, color: '#444', fontFamily: FONT } },
    { gridIndex: 2, type: 'value', show: false, min: 0, max: 1 },
    { gridIndex: 3, type: 'value', min: -112.7, max: 126.5,
      axisLine: { show: true, lineStyle: { color: '#333', width: 1 } },
      axisTick: { show: true, length: 5, lineStyle: { color: '#333' }, customValues: rightYTicks },
      axisLabel: { margin: 8, fontSize: 15, color: '#1a1a1a', fontFamily: FONT, customValues: rightYTicks },
      splitLine: { show: false },
      name: 'Randomly Drawn Number Added to Yours', nameLocation: 'middle', nameGap: 46,
      nameTextStyle: { fontSize: 15, color: '#1a1a1a', fontFamily: FONT } }
  ],
  series: [
    { type: 'scatter', xAxisIndex: 1, yAxisIndex: 1, data: leftPoints, symbol: 'circle', symbolSize: 4.8,
      itemStyle: { color: 'rgba(0,0,0,0)', borderColor: '#000', borderWidth: 1.6 }, silent: true, z: 3, animation: false },
    bandLine(legendNames[0], '#00ff00', pairs(pct50Upper)),
    bandLine(legendNames[0], '#00ff00', pairs(pct50Lower)),
    bandLine(legendNames[1], '#ffff00', pairs(pct80Upper)),
    bandLine(legendNames[1], '#ffff00', pairs(pct80Lower)),
    bandLine(legendNames[2], '#ff0000', pairs(pct95Upper)),
    bandLine(legendNames[2], '#ff0000', pairs(pct95Lower)),
    { type: 'line', xAxisIndex: 3, yAxisIndex: 3, data: zeroLineX.map(x => [x, 0]), symbol: 'none', clip: false,
      lineStyle: { color: '#000', width: 3, type: [10, 4] }, silent: true, z: 2,
      markLine: { silent: true, symbol: 'none', label: { show: false },
        lineStyle: { color: '#e8e8e8', width: 1, type: 'solid' },
        data: rightGridValues.map(v => ({ yAxis: v })) } },
    { type: 'scatter', xAxisIndex: 3, yAxisIndex: 3, data: rightPoints, symbol: 'circle', symbolSize: 6.4,
      itemStyle: { color: '#595959' }, silent: true, z: 3 },
    { type: 'scatter', xAxisIndex: 3, yAxisIndex: 3, data: [originDot], symbol: 'circle', symbolSize: 10,
      itemStyle: { color: '#000' }, clip: false, silent: true, z: 4 }
  ]
});
</script>
</body></html>
